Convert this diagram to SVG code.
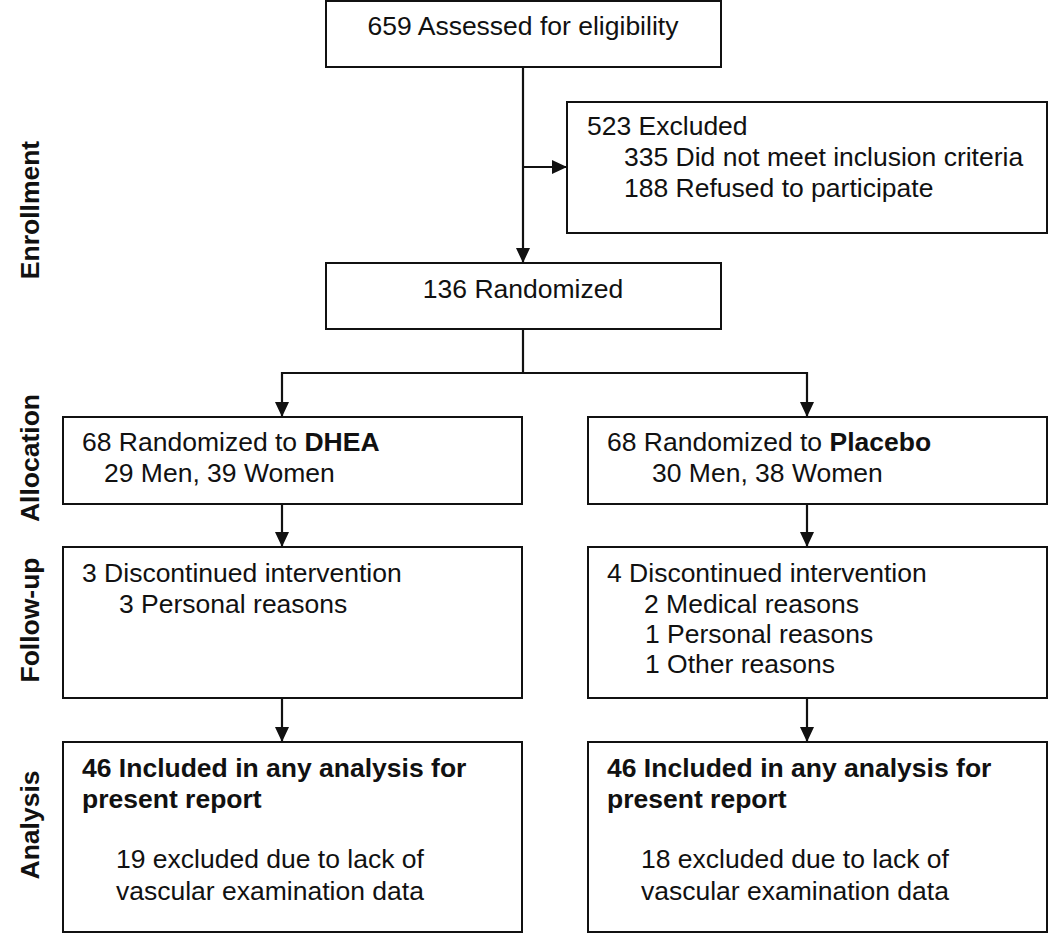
<svg xmlns="http://www.w3.org/2000/svg" width="1050" height="934" viewBox="0 0 1050 934">
<style>
.box{fill:#fff;stroke:#111;stroke-width:2}
.t{font-family:"Liberation Sans",Arial,sans-serif;font-size:26.5px;fill:#111}
.b{font-weight:bold}
.c{text-anchor:middle}
.conn{fill:none;stroke:#111;stroke-width:2.2}
</style>
<defs>
<marker id="ah" markerUnits="userSpaceOnUse" markerWidth="15" markerHeight="14" refX="15" refY="7" orient="auto">
<path d="M0,0 L15,7 L0,14 Z" fill="#111"/>
</marker>
</defs>
<rect width="1050" height="934" fill="#fff"/>
<g id="labels">
<text class="t b c" transform="translate(39,210) rotate(-90)">Enrollment</text>
<text class="t b c" transform="translate(39,458) rotate(-90)">Allocation</text>
<text class="t b c" transform="translate(39,620) rotate(-90)">Follow-up</text>
<text class="t b c" transform="translate(39,825) rotate(-90)">Analysis</text>
</g>
<g id="connectors">
<path class="conn" d="M523,67 V263" marker-end="url(#ah)"/>
<path class="conn" d="M523,167 H567" marker-end="url(#ah)"/>
<path class="conn" d="M523,329 V373 H282 V417" marker-end="url(#ah)"/>
<path class="conn" d="M523,373 H807 V417" marker-end="url(#ah)"/>
<path class="conn" d="M282,504 V547" marker-end="url(#ah)"/>
<path class="conn" d="M807,504 V547" marker-end="url(#ah)"/>
<path class="conn" d="M282,698 V742" marker-end="url(#ah)"/>
<path class="conn" d="M807,698 V742" marker-end="url(#ah)"/>
</g>
<g id="assessed">
<rect class="box" x="326" y="1" width="395" height="66"/>
<text class="t c" x="523" y="35">659 Assessed for eligibility</text>
</g>
<g id="excluded">
<rect class="box" x="567" y="102" width="480" height="131"/>
<text class="t" x="587" y="135">523 Excluded</text>
<text class="t" x="624" y="166">335 Did not meet inclusion criteria</text>
<text class="t" x="624" y="197">188 Refused to participate</text>
</g>
<g id="randomized">
<rect class="box" x="326" y="263" width="395" height="66"/>
<text class="t c" x="523" y="298">136 Randomized</text>
</g>
<g id="alloc-dhea">
<rect class="box" x="63" y="417" width="459" height="87"/>
<text class="t" x="82" y="451">68 Randomized to <tspan class="b">DHEA</tspan></text>
<text class="t" x="104" y="482">29 Men, 39 Women</text>
</g>
<g id="alloc-placebo">
<rect class="box" x="588" y="417" width="459" height="87"/>
<text class="t" x="607" y="451">68 Randomized to <tspan class="b">Placebo</tspan></text>
<text class="t" x="652" y="482">30 Men, 38 Women</text>
</g>
<g id="fu-dhea">
<rect class="box" x="63" y="547" width="459" height="151"/>
<text class="t" x="82" y="582">3 Discontinued intervention</text>
<text class="t" x="119" y="613">3 Personal reasons</text>
</g>
<g id="fu-placebo">
<rect class="box" x="588" y="547" width="459" height="151"/>
<text class="t" x="607" y="582">4 Discontinued intervention</text>
<text class="t" x="644" y="613">2 Medical reasons</text>
<text class="t" x="645" y="643">1 Personal reasons</text>
<text class="t" x="645" y="673">1 Other reasons</text>
</g>
<g id="an-dhea">
<rect class="box" x="63" y="742" width="459" height="190"/>
<text class="t b" x="82" y="777">46 Included in any analysis for</text>
<text class="t b" x="82" y="808">present report</text>
<text class="t" x="116" y="868">19 excluded due to lack of</text>
<text class="t" x="116" y="900">vascular examination data</text>
</g>
<g id="an-placebo">
<rect class="box" x="588" y="742" width="459" height="190"/>
<text class="t b" x="607" y="777">46 Included in any analysis for</text>
<text class="t b" x="607" y="808">present report</text>
<text class="t" x="641" y="868">18 excluded due to lack of</text>
<text class="t" x="641" y="900">vascular examination data</text>
</g>
</svg>
